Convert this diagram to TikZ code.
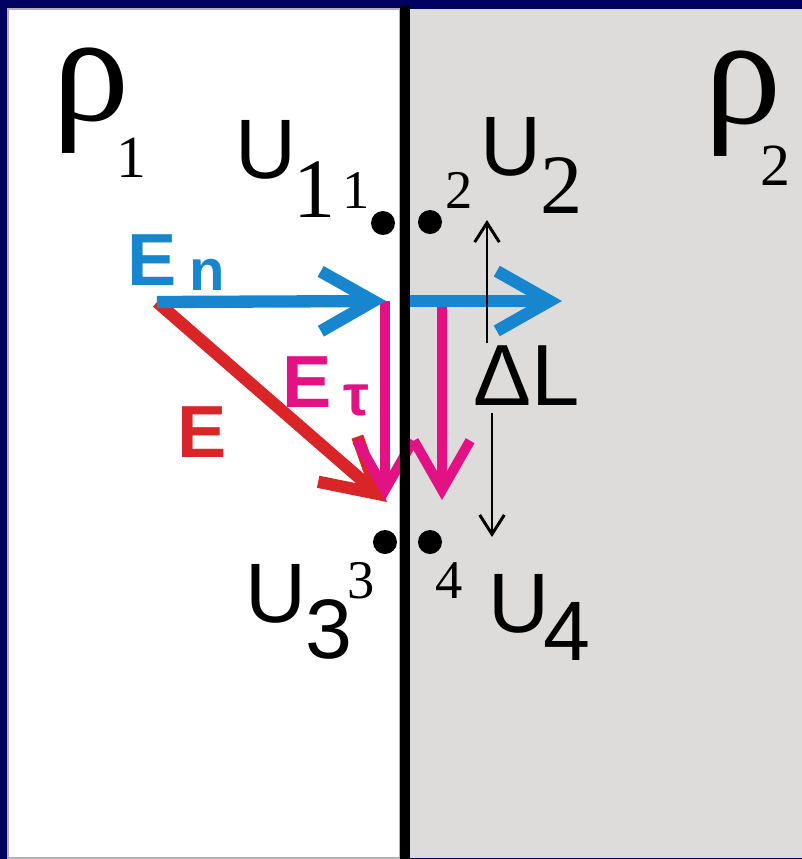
\documentclass[tikz,border=0pt]{standalone}
\usepackage{fontspec}
\setmainfont{Liberation Serif}
\setsansfont{Liberation Sans}
\usetikzlibrary{arrows.meta}
\definecolor{slideNavy}{RGB}{0,0,96}
\definecolor{paneGrey}{RGB}{221,220,218}
\definecolor{fieldBlue}{RGB}{24,134,206}
\definecolor{fieldRed}{RGB}{218,37,40}
\definecolor{fieldPink}{RGB}{226,18,132}

\begin{document}
\begin{tikzpicture}[x=0.01cm,y=-0.01cm,
  lbl/.style={inner sep=0pt,anchor=base west},
  rholbl/.style={lbl,font=\fontsize{44}{48}\selectfont},
  sublbl/.style={lbl,font=\fontsize{17}{20}\selectfont},
  ulbl/.style={lbl,font=\sffamily\fontsize{24}{28}\selectfont},
  usub/.style={lbl,font=\fontsize{24}{28}\selectfont},
  ptlbl/.style={lbl,font=\fontsize{15.5}{18}\selectfont},
  elbl/.style={lbl,font=\sffamily\bfseries\fontsize{21}{24}\selectfont},
  esub/.style={lbl,font=\sffamily\bfseries\fontsize{16.5}{19}\selectfont},
  vecE/.style={line width=3.5pt,-{Straight Barb[length=15pt,width=17pt]}},
  vecT/.style={line width=2.85pt,-{Straight Barb[length=14pt,width=16pt]}},
  dim/.style={line width=0.85pt,-{Straight Barb[length=5.5pt,width=7pt]}}]
\useasboundingbox (0,0) rectangle (802,859);
% ---- slide background and the two media ----
\fill[slideNavy] (0,0) rectangle (802,859);
\filldraw[fill=white,draw=gray!60,line width=0.3pt] (8,9) rectangle (400,858);
\fill[paneGrey] (410,9) rectangle (802,858);
% ---- media and potentials ----
\node[rholbl] (rho1) at (52,120) {ρ};
\node[sublbl] (rho1n) at (116,177) {1};
\node[rholbl] (rho2) at (704,123) {ρ};
\node[sublbl] (rho2n) at (760,185) {2};
\node[ulbl] (u1) at (235,178) {U};
\node[usub] (u1n) at (293,217) {1};
\node[ulbl] (u2) at (480,175) {U};
\node[usub] (u2n) at (540,213) {2};
\node[ulbl] (u3) at (245,622) {U};
\node[ulbl] (u3n) at (305,658) {3};
\node[ulbl] (u4) at (488,632) {U};
\node[ulbl] (u4n) at (543,660) {4};
% ---- probe points ----
\coordinate (p1) at (383,223);
\coordinate (p2) at (430,222);
\coordinate (p3) at (385,542);
\coordinate (p4) at (430,542);
\foreach \p in {p1,p2,p3,p4}{
  \fill (\p) circle (12);
}
\node[ptlbl] (p1n) at (342,208) {1};
\node[ptlbl] (p2n) at (445,208) {2};
\node[ptlbl] (p3n) at (347,598) {3};
\node[ptlbl] (p4n) at (435,598) {4};
% ---- field vectors ----
\coordinate (o) at (157,302);
\coordinate (entip) at (386,301);
\coordinate (etip) at (387,502);
\coordinate (en2) at (405,301);
\coordinate (en2tip) at (562,301);
\coordinate (et) at (385,301);
\coordinate (ettip) at (385,500);
\coordinate (et2) at (442,299);
\coordinate (et2tip) at (442,500);
\draw[vecE,fieldRed] (o) -- (etip);
\draw[vecT,fieldPink] (et) -- (ettip);
\draw[vecT,fieldPink] (et2) -- (et2tip);
\draw[vecE,fieldBlue] (o) -- (entip);
\draw[vecE,fieldBlue] (en2) -- (en2tip);
\node[elbl,fieldBlue] (enE) at (127,285) {E};
\node[esub,fieldBlue] (enn) at (189,290) {n};
\node[elbl,fieldRed] (eE) at (177,457) {E};
\node[elbl,fieldPink] (etE) at (282,407) {E};
\node[esub,fieldPink] (ett) at (343,415) {τ};
% ---- boundary ----
\draw[line width=2.85pt] (405,5) -- (405,859);
% ---- spacing between probes ----
\node[ulbl,font=\sffamily\fontsize{24.7}{28}\selectfont] (dl) at (473,405) {ΔL};
\coordinate (dlup) at (487,220);
\coordinate (dldown) at (492,537);
\draw[dim] (487,343) -- (dlup);
\draw[dim] (492,413) -- (dldown);
\end{tikzpicture}
\end{document}
